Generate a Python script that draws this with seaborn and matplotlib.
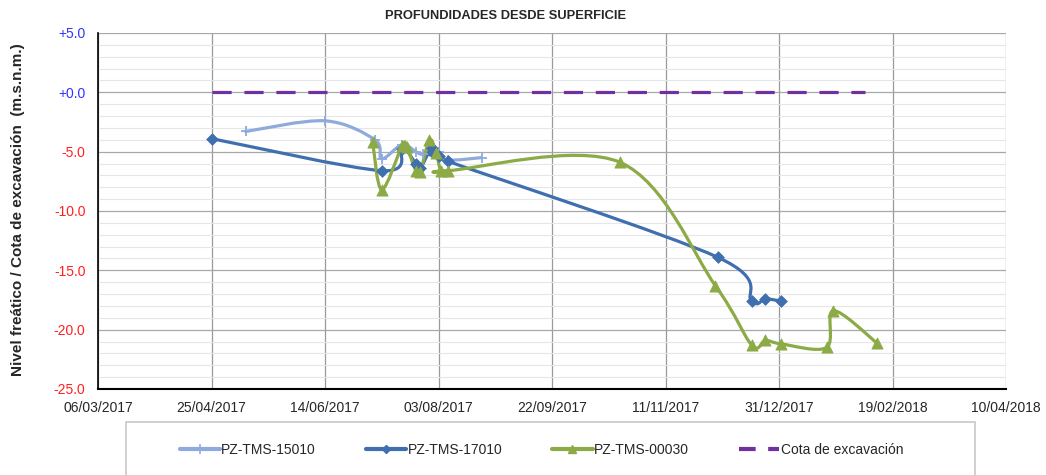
import matplotlib
matplotlib.use("Agg")
import matplotlib.pyplot as plt
import matplotlib.dates as mdates
from matplotlib.path import Path
from matplotlib.patches import PathPatch, Rectangle
from matplotlib.lines import Line2D
import numpy as np
import pandas as pd
import seaborn as sns

# data
pz15010_dates = ["2017-05-10", "2017-06-14", "2017-07-06", "2017-07-09", "2017-07-18",
                 "2017-07-24", "2017-07-27", "2017-07-31", "2017-08-03", "2017-08-07",
                 "2017-08-22"]
pz15010_vals = [-3.3, -2.4, -4.0, -5.6, -4.4, -5.0, -5.2, -4.6, -5.0, -5.7, -5.5]

pz17010_dates = ["2017-04-25", "2017-07-09", "2017-07-18", "2017-07-24", "2017-07-26",
                 "2017-07-31", "2017-08-03", "2017-08-07", "2017-12-04", "2017-12-19",
                 "2017-12-25", "2018-01-01"]
pz17010_vals = [-3.9, -6.6, -4.8, -6.0, -6.4, -4.7, -5.4, -5.8, -13.9, -17.6, -17.4, -17.6]

pz00030_dates = ["2017-07-05", "2017-07-09", "2017-07-18", "2017-07-20", "2017-07-24",
                 "2017-07-26", "2017-07-30", "2017-08-02", "2017-08-04", "2017-08-07",
                 "2017-10-22", "2017-12-03", "2017-12-19", "2017-12-25", "2018-01-01",
                 "2018-01-21", "2018-01-24", "2018-02-12"]
pz00030_vals = [-4.2, -8.2, -4.5, -4.6, -6.6, -6.7, -4.0, -5.1, -6.6, -6.6,
                -5.9, -16.3, -21.3, -20.9, -21.2, -21.5, -18.4, -21.1]

cota_dates = ["2017-04-25", "2018-02-07"]
cota_vals = [0.0, 0.0]

x_ticks = ["2017-03-06", "2017-04-25", "2017-06-14", "2017-08-03", "2017-09-22",
           "2017-11-11", "2017-12-31", "2018-02-19", "2018-04-10"]

c_light = "#8FAADC"
c_dark = "#3F6FAE"
c_green = "#8CAB47"
c_purple = "#7030A0"

W, H = 1046, 475


def smooth_path(dates, vals):
    """Excel-style smoothed line as a cubic Bezier path (control points from the data)."""
    x = mdates.date2num(pd.to_datetime(dates))
    y = np.asarray(vals, dtype=float)
    pts = np.column_stack([x, y])
    n = len(pts)
    verts = [pts[0]]
    codes = [Path.MOVETO]
    for i in range(n - 1):
        p0 = pts[i - 1] if i > 0 else pts[i]
        p1 = pts[i]
        p2 = pts[i + 1]
        p3 = pts[i + 2] if i + 2 < n else pts[i + 1]
        c1 = p1 + (p2 - p0) / 6.0
        c2 = p2 - (p3 - p1) / 6.0
        verts += [c1, c2, p2]
        codes += [Path.CURVE4] * 3
    return Path(verts, codes)


sns.set_style("white")
plt.rcParams["font.family"] = ["Liberation Sans", "DejaVu Sans"]

fig = plt.figure(figsize=(W / 100, H / 100), dpi=100)
ax = fig.add_axes([98 / W, 1 - 389 / H, 908 / W, 356 / H])

series = [
    (pz15010_dates, pz15010_vals, c_light, "+", 7, "PZ-TMS-15010"),
    (pz17010_dates, pz17010_vals, c_dark, "D", 6, "PZ-TMS-17010"),
    (pz00030_dates, pz00030_vals, c_green, "^", 8, "PZ-TMS-00030"),
]

for dates, vals, color, marker, msize, label in series:
    patch = PathPatch(smooth_path(dates, vals), facecolor="none", edgecolor=color,
                      lw=2.3, zorder=3, capstyle="round", joinstyle="round")
    ax.add_patch(patch)
    df = pd.DataFrame({"fecha": pd.to_datetime(dates), "nivel": vals})
    if marker == "+":
        ax.plot(df["fecha"], df["nivel"], ls="none", marker="+", ms=msize,
                mec=color, mew=1.3, zorder=4)
    else:
        sns.scatterplot(data=df, x="fecha", y="nivel", ax=ax, marker=marker,
                        s=msize ** 2, color=color, edgecolor=color, zorder=4,
                        legend=False)

cota_df = pd.DataFrame({"fecha": pd.to_datetime(cota_dates), "nivel": cota_vals})
sns.lineplot(data=cota_df, x="fecha", y="nivel", ax=ax, color=c_purple, lw=2.3,
             zorder=3, legend=False)
ax.lines[-1].set_dashes([6, 4])

# axes and grid
tick_dates = pd.to_datetime(x_ticks)
ax.set_xlim(tick_dates[0], tick_dates[-1])
ax.set_ylim(-25, 5)
ax.set_xticks(tick_dates)
ax.xaxis.set_major_formatter(mdates.DateFormatter("%d/%m/%Y"))
ax.set_yticks(np.arange(-25, 6, 5))
ax.set_yticks(np.arange(-25, 6, 1), minor=True)
ax.set_yticklabels([f"{v:+.1f}" for v in np.arange(-25, 6, 5)])
for lbl, v in zip(ax.get_yticklabels(), np.arange(-25, 6, 5)):
    lbl.set_color("#3333FF" if v >= 0 else "#FF2020")
ax.tick_params(axis="both", labelsize=10, length=4, color="#888888")
ax.tick_params(axis="x", pad=5)
ax.tick_params(axis="y", pad=5)
ax.tick_params(axis="y", which="minor", length=0)
ax.grid(axis="x", color="#9a9a9a", lw=0.9)
ax.grid(axis="y", which="major", color="#a8a8a8", lw=0.9)
ax.grid(axis="y", which="minor", color="#e6e6e6", lw=0.8)
ax.set_axisbelow(True)
for side in ["top", "right"]:
    ax.spines[side].set_visible(False)
ax.spines["left"].set_color("black")
ax.spines["bottom"].set_color("black")
ax.spines["left"].set_linewidth(1.2)
ax.spines["bottom"].set_linewidth(1.5)
ax.set_xlabel("")
ax.set_ylabel("")

fig.text(18 / W, 1 - 210 / H, "Nivel freático / Cota de excavación  (m.s.n.m.)",
         rotation=90, ha="center", va="center", fontsize=11, fontweight="bold")
fig.text(506 / W, 1 - 16 / H, "PROFUNDIDADES DESDE SUPERFICIE", ha="center",
         va="center", fontsize=9.3, fontweight="bold")

# legend: frame drawn separately, entries placed like the reference
fig.add_artist(Rectangle((126 / W, -0.05), (975 - 126) / W, 0.05 + (1 - 422 / H),
                         transform=fig.transFigure, facecolor="none",
                         edgecolor="#c8c8c8", lw=1.2))
handles = [
    Line2D([], [], color=c_light, lw=3, marker="+", ms=7, mew=1.2),
    Line2D([], [], color=c_dark, lw=3, marker="D", ms=4),
    Line2D([], [], color=c_green, lw=3, marker="^", ms=6),
    Line2D([], [], color=c_purple, lw=3, dashes=[4, 3]),
]
labels = ["PZ-TMS-15010", "PZ-TMS-17010", "PZ-TMS-00030", "Cota de excavación"]
fig.legend(handles, labels, loc="center left", ncol=4,
           bbox_to_anchor=(167 / W, 1 - 450 / H), frameon=False, fontsize=10,
           handlelength=2.9, handletextpad=0.1, columnspacing=3.6)

fig.savefig("out.png", dpi=100)
